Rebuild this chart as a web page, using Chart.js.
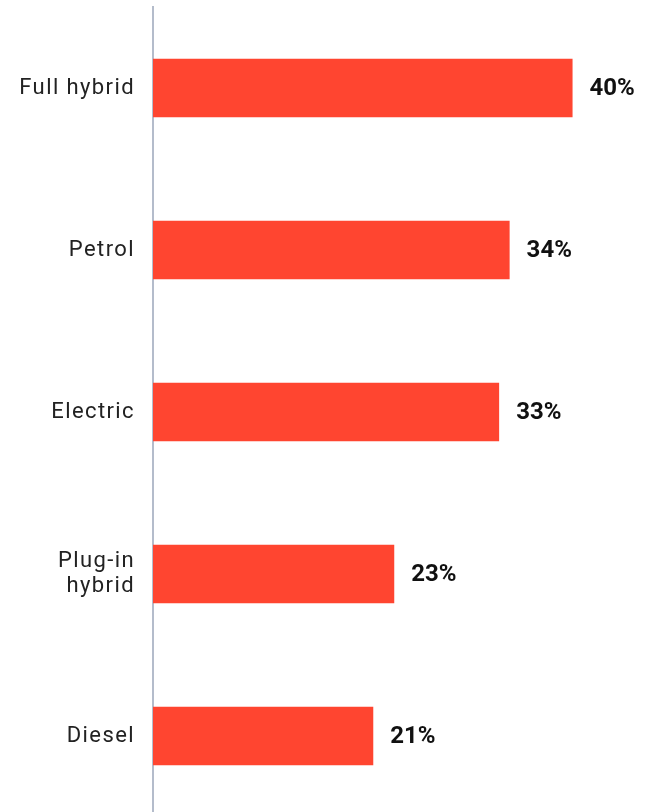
<!DOCTYPE html>
<html>
<head>
<meta charset="utf-8">
<script src="https://cdn.jsdelivr.net/npm/chart.js@4"></script>
<style>
  html, body { margin: 0; padding: 0; background: #fff; overflow: hidden; }
  #wrap { width: 653px; height: 817px; position: relative; }
</style>
</head>
<body>
<div id="wrap"><canvas id="fuelChart"></canvas></div>
<script>
const fuelTypes = ["Full hybrid", "Petrol", "Electric", ["Plug-in", "hybrid"], "Diesel"];
const shares = [40, 34, 33, 23, 21];

// slightly looser tracking for the category names
const tracking = {
    id: "tracking",
    beforeDraw(chart) {
        chart.ctx.letterSpacing = "1.4px";
    }
};

// prints the percentage just past the end of each bar
const valueLabels = {
    id: "valueLabels",
    afterDatasetsDraw(chart) {
        const ctx = chart.ctx;
        const meta = chart.getDatasetMeta(0);
        ctx.save();
        ctx.letterSpacing = "0px";
        ctx.font = "bold 24px Roboto";
        ctx.fillStyle = "#111";
        ctx.textAlign = "left";
        ctx.textBaseline = "middle";
        meta.data.forEach((bar, i) => {
            ctx.fillText(shares[i] + "%", bar.x + 17, bar.y + 1);
        });
        ctx.restore();
    }
};

const ctx = document.getElementById("fuelChart").getContext("2d");
new Chart(ctx, {
    type: "bar",
    data: {
        labels: fuelTypes,
        datasets: [{
            data: shares,
            backgroundColor: "#ff4530",
            barPercentage: 0.36,
            categoryPercentage: 1
        }]
    },
    options: {
        indexAxis: "y",
        responsive: true,
        maintainAspectRatio: false,
        animation: false,
        layout: { padding: { top: 7, right: 28, bottom: 0, left: 0 } },
        plugins: {
            legend: { display: false },
            tooltip: { enabled: false }
        },
        scales: {
            x: {
                display: false,
                min: 0,
                max: 45
            },
            y: {
                grid: { display: false, drawTicks: false },
                border: { display: true, color: "#b4bccb", width: 2 },
                ticks: {
                    color: "#222",
                    padding: 18,
                    font: { family: "Roboto", size: 22, lineHeight: 1.1 }
                },
                afterFit(scale) {
                    scale.width = 153;
                    // keep the bars running the full height
                    scale.paddingTop = 0;
                    scale.paddingBottom = 0;
                }
            }
        }
    },
    plugins: [tracking, valueLabels]
});
</script>
</body>
</html>
